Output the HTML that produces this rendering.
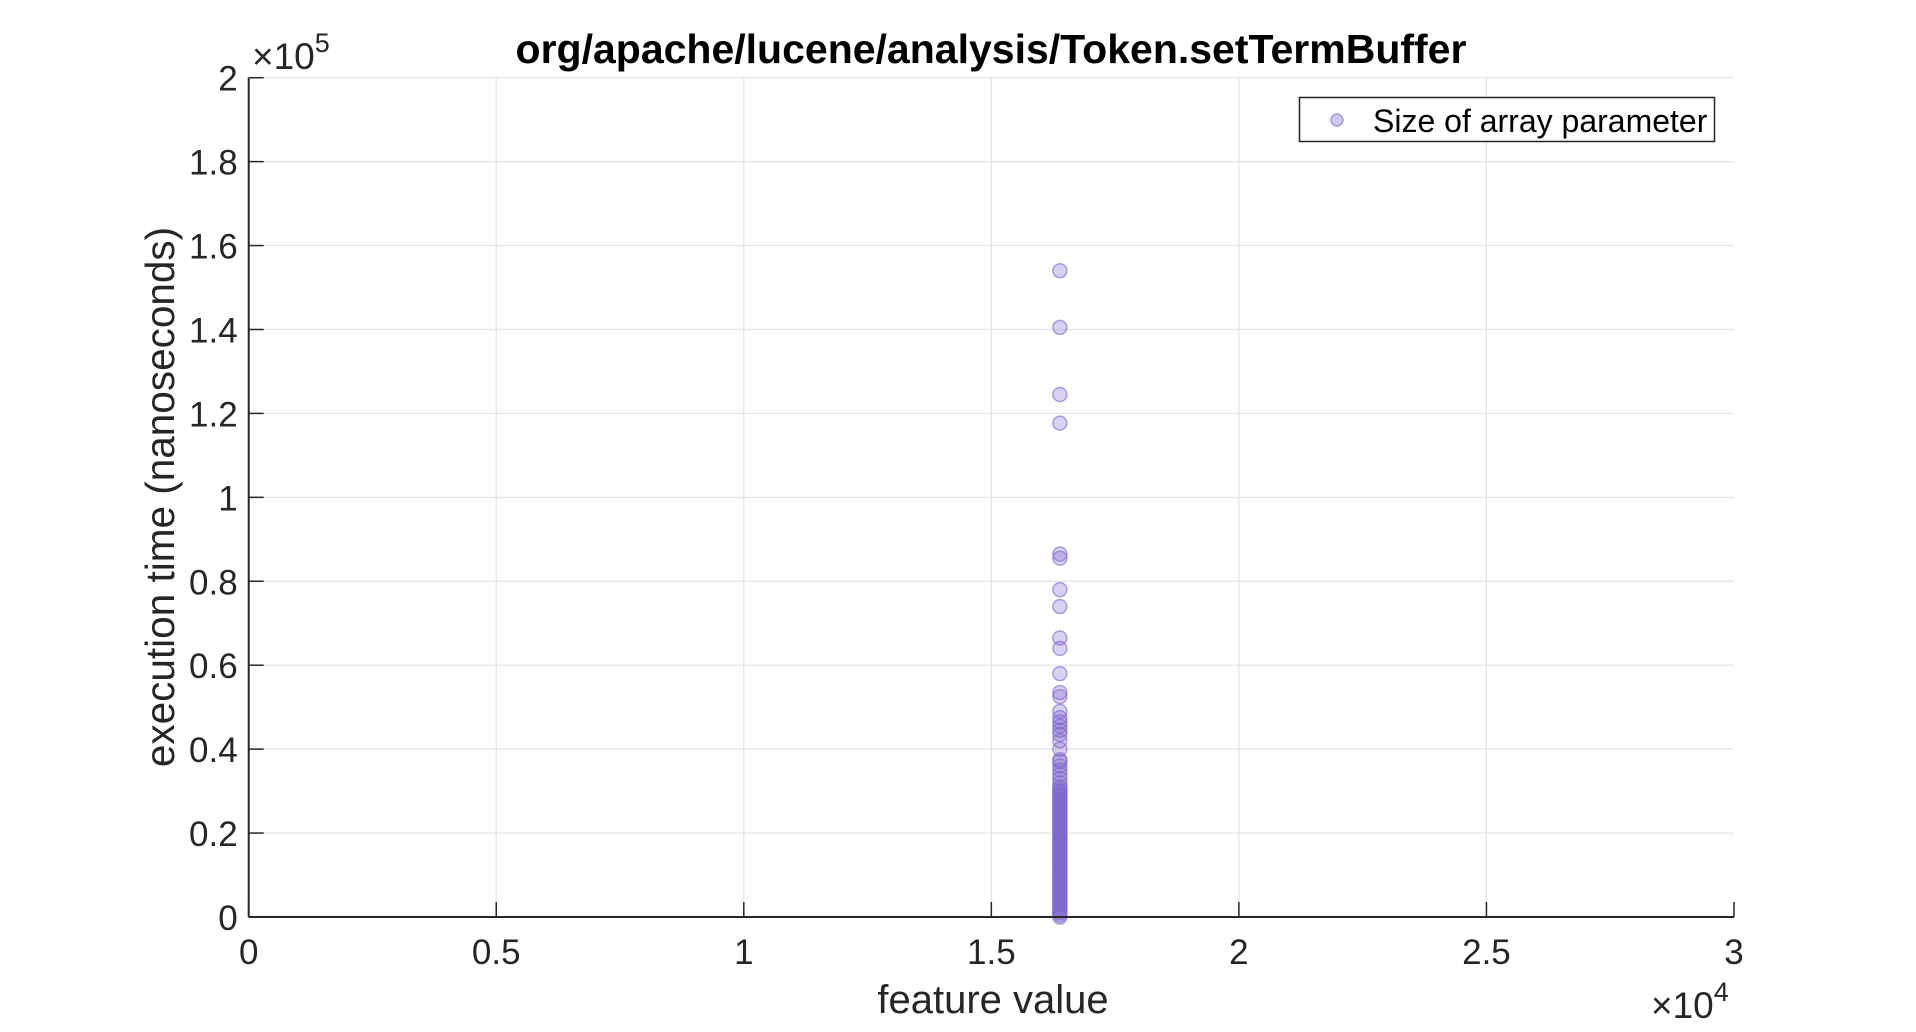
<!DOCTYPE html>
<html><head><meta charset="utf-8"><style>
html,body{margin:0;padding:0;background:#fff;}
svg{display:block;font-family:"Liberation Sans",Arial,sans-serif;}
</style></head><body>
<svg id="chart" width="1916" height="1032" viewBox="0 0 1916 1032">
<rect width="1916" height="1032" fill="#fff"/>
<g id="grid"></g>
<g id="pts"></g>
<g id="axes"></g>
<text x="991" y="63" text-anchor="middle" font-size="41" font-weight="bold" fill="#000">org/apache/lucene/analysis/Token.setTermBuffer</text>
<text x="252" y="69" font-size="37" fill="#262626">×10<tspan font-size="27" dy="-17">5</tspan></text>
<text x="1651" y="1018" font-size="37" fill="#262626">×10<tspan font-size="27" dy="-17">4</tspan></text>
<text x="993" y="1013" text-anchor="middle" font-size="40" fill="#262626">feature value</text>
<text transform="translate(174,497) rotate(-90)" text-anchor="middle" font-size="40.5" fill="#262626">execution time (nanoseconds)</text>
<g>
<rect x="1299.5" y="97.5" width="415" height="44" fill="#fff" stroke="#262626" stroke-width="1.5"/>
<circle cx="1337" cy="120" r="6" fill="rgba(126,102,204,0.35)" stroke="rgba(126,102,204,0.6)" stroke-width="1.5"/>
<text x="1373" y="132" font-size="32" fill="#000">Size of array parameter</text>
</g>
</svg>
<script>
const xTicks = [0, 5000, 10000, 15000, 20000, 25000, 30000];
const xTickLabels = ["0", "0.5", "1", "1.5", "2", "2.5", "3"];
const yTicks = [0, 20000, 40000, 60000, 80000, 100000, 120000, 140000, 160000, 180000, 200000];
const yTickLabels = ["0", "0.2", "0.4", "0.6", "0.8", "1", "1.2", "1.4", "1.6", "1.8", "2"];
const featureValue = 16384;
const execTimes = [154000, 140500, 124500, 117700, 86500, 85500, 78000, 74000, 66500, 64000, 58000, 53500, 52500, 49000, 47500, 46500, 45500, 44500, 43500, 42000, 40000, 37500, 37000, 36000, 35000, 34000, 33000, 32000, 31000, 30500, 30000, 29000, 28000, 27000, 26000, 25000, 24000, 23000, 22000, 21000, 20000, 19000, 18000, 17000, 16000, 15000, 14000, 13000, 12000, 11000, 10000, 9000, 8000, 7000, 6000, 5000, 4000, 3000, 2000, 1000, 500, 0, 1500, 2500, 3500, 4500, 5500, 6500, 7500, 8500, 9500, 10500, 11500, 12500, 13500, 14500, 15500, 16500, 17500, 18500, 19500, 20500, 21500, 22500, 23500, 24500, 25500, 26500, 27500, 28500, 29500];

const L = 248.7, R = 1734, T = 77.7, B = 917;
const xs = v => L + (v - 0) / 30000 * (R - L);
const ys = v => B - v / 200000 * (B - T);
const NS = "http://www.w3.org/2000/svg";
const grid = document.getElementById('grid');
const axes = document.getElementById('axes');
const pts = document.getElementById('pts');
function mk(tag, attrs, parent) { const e = document.createElementNS(NS, tag); for (const k in attrs) e.setAttribute(k, attrs[k]); parent.appendChild(e); return e; }

xTicks.forEach((v, i) => {
  const x = xs(v);
  if (i > 0 && i < xTicks.length - 1) {
    const g = mk('line', {x1: x, x2: x, y1: T, y2: B, stroke: '#e3e3e3', 'stroke-width': 1.2}, grid);
    
    
  }
  const t = mk('line', {x1: x, x2: x, y1: B, y2: B - 15, stroke: '#262626', 'stroke-width': 1.5}, axes);
  
  
  const lb = mk('text', {x: x, y: 964, 'text-anchor': 'middle', 'font-size': 35, fill: '#262626'}, axes);
  lb.textContent = xTickLabels[i];
  
  
});
yTicks.forEach((v, i) => {
  const y = ys(v);
  if (i > 0) {
    const g = mk('line', {x1: L, x2: R, y1: y, y2: y, stroke: '#e3e3e3', 'stroke-width': 1.2}, grid);
    
    
  }
  const t = mk('line', {x1: L, x2: L + 15, y1: y, y2: y, stroke: '#262626', 'stroke-width': 1.5}, axes);
  
  
  const lb = mk('text', {x: L - 11, y: y + 13, 'text-anchor': 'end', 'font-size': 35, fill: '#262626'}, axes);
  lb.textContent = yTickLabels[i];
  
  
});
const xa = mk('line', {x1: L, x2: R, y1: B, y2: B, stroke: '#262626', 'stroke-width': 2}, axes);


const ya = mk('line', {x1: L, x2: L, y1: T, y2: B, stroke: '#262626', 'stroke-width': 2}, axes);



execTimes.forEach(v => {
  const c = mk('circle', {cx: xs(featureValue), cy: ys(v), r: 7, fill: 'rgba(126,102,204,0.3)', stroke: 'rgba(126,102,204,0.6)', 'stroke-width': 1.5}, pts);
  
  
});
</script>
</body></html>
